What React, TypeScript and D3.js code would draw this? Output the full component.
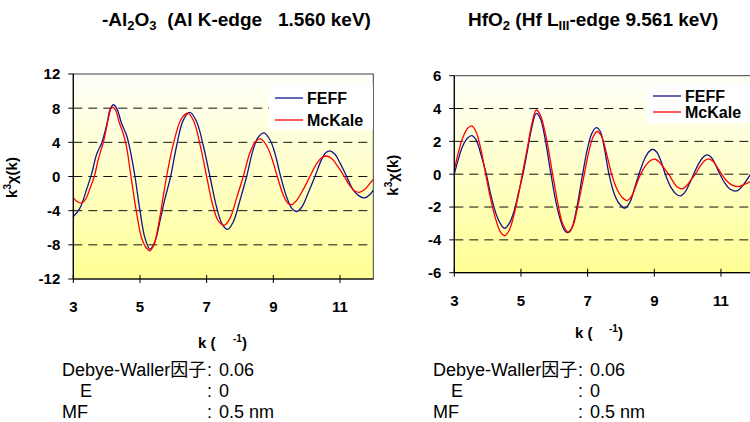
import React from 'react'
import * as d3 from 'd3'

// k in 1/A, chi*k^3
const kAlFeff = [3.0, 3.2, 3.4, 3.55, 3.7, 3.85, 4.0, 4.1, 4.2, 4.3, 4.45, 4.6, 4.7, 4.85, 5.0, 5.15, 5.3, 5.45, 5.6, 5.75, 5.92, 6.1, 6.3, 6.5, 6.7, 6.9, 7.1, 7.3, 7.47, 7.63, 7.8, 8.0, 8.2, 8.4, 8.55, 8.72, 8.9, 9.05, 9.22, 9.4, 9.55, 9.7, 9.85, 10.05, 10.25, 10.45, 10.58, 10.7, 10.85, 11.0, 11.2, 11.4, 11.58, 11.75, 11.9, 12.0]
const chiAlFeff = [-4.7, -3.7, -1.5, 0.3, 2.6, 3.9, 6.0, 7.8, 8.4, 8.0, 6.2, 4.8, 3.2, 0, -4.0, -7.2, -8.5, -7.6, -5.2, -2.6, 0, 3.6, 6.6, 7.5, 6.4, 3.6, 0, -3.6, -5.6, -6.2, -5.3, -2.8, 0, 3.2, 4.6, 5.1, 4.3, 2.7, 0, -2.4, -3.7, -4.1, -3.6, -1.9, 0, 2.0, 2.8, 3.0, 2.6, 1.6, 0, -1.6, -2.3, -2.5, -2.1, -1.6]

const kAlMcKale = [3.0, 3.12, 3.25, 3.38, 3.5, 3.63, 3.75, 3.9, 4.0, 4.1, 4.15, 4.25, 4.38, 4.5, 4.6, 4.73, 4.9, 5.05, 5.2, 5.3, 5.42, 5.55, 5.67, 5.8, 6.0, 6.25, 6.45, 6.62, 6.82, 7.0, 7.18, 7.35, 7.53, 7.7, 7.9, 8.1, 8.3, 8.47, 8.62, 8.8, 8.95, 9.12, 9.3, 9.43, 9.55, 9.7, 9.9, 10.1, 10.3, 10.45, 10.6, 10.75, 10.95, 11.13, 11.3, 11.45, 11.58, 11.75, 11.9, 12.0]
const chiAlMcKale = [-2.5, -2.95, -3.1, -2.6, -1.4, 0, 2.0, 4.0, 5.8, 7.6, 8.1, 7.9, 6.3, 5.0, 3.4, 0, -4.3, -7.2, -8.4, -8.7, -8.0, -5.8, -3.0, 0, 3.8, 6.8, 7.4, 6.4, 3.4, 0, -3.3, -5.2, -5.7, -4.9, -2.5, 0, 2.8, 4.1, 4.4, 3.6, 2.2, 0, -2.2, -3.1, -3.3, -2.8, -1.5, 0, 1.5, 2.2, 2.4, 2.1, 1.1, 0, -1.1, -1.7, -1.85, -1.5, -0.8, -0.35]

const kHfFeff = [3.0, 3.12, 3.25, 3.4, 3.52, 3.65, 3.8, 3.96, 4.1, 4.25, 4.38, 4.51, 4.65, 4.8, 4.93, 5.06, 5.2, 5.33, 5.46, 5.58, 5.72, 5.9, 6.05, 6.2, 6.3, 6.4, 6.52, 6.65, 6.85, 7.0, 7.13, 7.26, 7.38, 7.5, 7.64, 7.8, 7.95, 8.12, 8.27, 8.4, 8.54, 8.7, 8.83, 8.95, 9.07, 9.2, 9.33, 9.5, 9.65, 9.78, 9.9, 10.05, 10.18, 10.32, 10.45, 10.57, 10.7, 10.83, 10.97, 11.12, 11.27, 11.47, 11.65, 11.87, 12.0]
const chiHfFeff = [0, 0.9, 1.7, 2.2, 2.35, 2.1, 1.2, 0, -1.3, -2.4, -3.0, -3.3, -3.0, -2.2, -1.1, 0, 1.5, 2.9, 3.7, 3.4, 2.2, 0, -1.7, -2.9, -3.4, -3.55, -3.3, -2.3, 0, 1.6, 2.5, 2.84, 2.6, 1.6, 0, -1.2, -1.8, -2.07, -1.7, -0.9, 0, 0.9, 1.35, 1.52, 1.35, 0.8, 0, -0.8, -1.2, -1.32, -1.15, -0.6, 0, 0.6, 1.0, 1.18, 1.05, 0.6, 0, -0.55, -0.9, -1.02, -0.7, -0.05, 0.4]

const kHfMcKale = [3.0, 3.12, 3.25, 3.4, 3.52, 3.65, 3.8, 3.94, 4.1, 4.25, 4.38, 4.51, 4.65, 4.8, 4.93, 5.04, 5.2, 5.33, 5.46, 5.58, 5.75, 5.95, 6.1, 6.25, 6.43, 6.57, 6.7, 6.9, 7.05, 7.17, 7.29, 7.42, 7.55, 7.72, 7.88, 8.03, 8.19, 8.33, 8.45, 8.59, 8.75, 8.9, 9.03, 9.17, 9.3, 9.43, 9.58, 9.7, 9.83, 9.97, 10.1, 10.23, 10.38, 10.5, 10.62, 10.75, 10.88, 11.02, 11.17, 11.32, 11.52, 11.7, 11.87, 12.0]
const chiHfMcKale = [0.25, 1.3, 2.2, 2.8, 2.94, 2.6, 1.5, 0, -1.6, -2.8, -3.5, -3.75, -3.4, -2.4, -1.2, 0, 1.7, 3.1, 3.91, 3.6, 2.3, 0, -1.7, -3.0, -3.55, -3.1, -2.0, 0, 1.5, 2.3, 2.6, 2.3, 1.4, 0, -0.9, -1.4, -1.6, -1.3, -0.7, 0, 0.55, 0.85, 0.91, 0.7, 0.35, 0, -0.5, -0.8, -0.89, -0.7, -0.35, 0, 0.5, 0.8, 0.93, 0.8, 0.45, 0, -0.4, -0.65, -0.76, -0.62, -0.46, -0.3]

const xTicks = [3, 5, 7, 9, 11]
const alYTicks = [-12, -8, -4, 0, 4, 8, 12]
const hfYTicks = [-6, -4, -2, 0, 2, 4, 6]
const seriesNames = ['FEFF', 'McKale']
const seriesColors = ['#14148c', '#ff0000']
const paramLabels = ['Debye-Waller因子', 'E', 'MF']
const paramValues = ['0.06', '0', '0.5 nm']

const font = "'Liberation Sans', Arial, 'Noto Sans CJK JP', sans-serif"

const zip = (ks: number[], vs: number[]) => ks.map((k, i) => [k, vs[i]] as [number, number])

const Panel = ({ id, left, top, right, bottom, yTicks, feff, mckale, leg }: any) => {
  const x = d3.scaleLinear().domain([3, 12]).range([left, right])
  const y = d3.scaleLinear().domain([yTicks[0], yTicks[yTicks.length - 1]]).range([bottom, top])
  const line = d3.line<[number, number]>()
    .x(d => x(d[0]))
    .y(d => y(d[1]))
    .curve(d3.curveCatmullRom.alpha(0.5))
  const series = [feff, mckale]

  return (
    <g>
      <defs>
        <linearGradient id={`bg-${id}`} x1="0" y1="0" x2="0" y2="1">
          <stop offset="0" stopColor="#fffffa" />
          <stop offset="1" stopColor="#ffff94" />
        </linearGradient>
        <clipPath id={`clip-${id}`}>
          <rect x={left} y={top} width={right - left} height={bottom - top} />
        </clipPath>
      </defs>
      <rect x={left} y={top} width={right - left} height={bottom - top} fill={`url(#bg-${id})`} stroke="#404040" strokeWidth={1} />
      {/* dashed grid */}
      {yTicks.slice(1, -1).map((t: number) => (
        <line key={t} x1={left} x2={right} y1={y(t)} y2={y(t)} stroke="#111" strokeWidth={1} strokeDasharray="9,6" />
      ))}
      <g clipPath={`url(#clip-${id})`}>
        {series.map((s: any, i: number) => (
          <path key={i} d={line(s) || ''} fill="none" stroke={seriesColors[i]} strokeWidth={1.3} />
        ))}
      </g>
      {/* legend */}
      <rect x={leg.x} y={leg.y} width={leg.w} height={leg.h} fill="#ffffff" />
      {seriesNames.map((n, i) => (
        <g key={n}>
          <line x1={leg.x + 6} x2={leg.x + 34} y1={leg.y + leg.r0 + i * leg.dy} y2={leg.y + leg.r0 + i * leg.dy} stroke={seriesColors[i]} strokeWidth={1.3} />
          <text x={leg.x + 38} y={leg.y + leg.r0 + i * leg.dy + 5.5} fontFamily={font} fontWeight="bold" fontSize={16}>{n}</text>
        </g>
      ))}
      {/* axes */}
      <line x1={left} x2={left} y1={top} y2={bottom} stroke="#000" strokeWidth={1.2} />
      <line x1={left} x2={right} y1={bottom} y2={bottom} stroke="#000" strokeWidth={1.2} />
      {yTicks.map((t: number) => (
        <g key={t}>
          <line x1={left - 5} x2={left} y1={y(t)} y2={y(t)} stroke="#000" />
          <text x={left - 13} y={y(t) + 5.4} textAnchor="end" fontFamily={font} fontWeight="bold" fontSize={15}>{t}</text>
        </g>
      ))}
      {xTicks.map(t => (
        <g key={t}>
          <line x1={x(t)} x2={x(t)} y1={bottom - 4} y2={bottom + 4} stroke="#000" />
          <text x={x(t)} y={bottom + 33} textAnchor="middle" fontFamily={font} fontWeight="bold" fontSize={15}>{t}</text>
        </g>
      ))}
      <text transform={`translate(${left - 56},${(top + bottom) / 2 + 1}) rotate(-90)`} textAnchor="middle" fontFamily={font} fontWeight="bold" fontSize={15}>
        k<tspan fontSize={10} dy={-6}>3</tspan><tspan dy={6}>χ(k)</tspan>
      </text>
    </g>
  )
}

const Params = ({ x0 }: { x0: number }) => (
  <g fontFamily={font} fontSize={18}>
    {paramLabels.map((p, i) => (
      <g key={p}>
        <text x={x0 + (i === 1 ? 18 : 0)} y={376 + i * 21}>{p}</text>
        <text x={x0 + 145} y={376 + i * 21}>:</text>
        <text x={x0 + 157} y={376 + i * 21}>{paramValues[i]}</text>
      </g>
    ))}
  </g>
)

export default function App() {
  return (
    <svg width={750} height={422} style={{ position: 'absolute', left: 0, top: 0, background: '#fff' }}>
      <text x={102} y={26} fontFamily={font} fontWeight="bold" fontSize={19} style={{ whiteSpace: 'pre' }}>
        -Al<tspan fontSize={13} dy={4}>2</tspan><tspan dy={-4}>O</tspan><tspan fontSize={13} dy={4}>3</tspan><tspan dy={-4}>{'  (Al K-edge   1.560 keV)'}</tspan>
      </text>
      <text x={468} y={26} fontFamily={font} fontWeight="bold" fontSize={19} style={{ whiteSpace: 'pre' }}>
        HfO<tspan fontSize={13} dy={4}>2</tspan><tspan dy={-4}>{' (Hf L'}</tspan><tspan fontSize={13} dy={4}>III</tspan><tspan dy={-4}>-edge 9.561 keV)</tspan>
      </text>

      <Panel id="al" left={73.3} top={74} right={373.3} bottom={279} yTicks={alYTicks}
        feff={zip(kAlFeff, chiAlFeff)} mckale={zip(kAlMcKale, chiAlMcKale)}
        leg={{ x: 269, y: 85, w: 104, h: 45, r0: 13, dy: 22 }} />
      <Panel id="hf" left={454.3} top={75.7} right={754.3} bottom={272.7} yTicks={hfYTicks}
        feff={zip(kHfFeff, chiHfFeff)} mckale={zip(kHfMcKale, chiHfMcKale)}
        leg={{ x: 647, y: 85, w: 107, h: 38, r0: 11, dy: 16 }} />

      <g fontFamily={font} fontWeight="bold" fontSize={15}>
        <text x={198} y={348}>k (</text>
        <text x={233} y={348}><tspan fontSize={10} dy={-6}>-1</tspan><tspan dy={6}>)</tspan></text>
        <text x={575} y={338}>k (</text>
        <text x={609} y={338}><tspan fontSize={10} dy={-6}>-1</tspan><tspan dy={6}>)</tspan></text>
      </g>

      <Params x0={62} />
      <Params x0={433} />
    </svg>
  )
}
